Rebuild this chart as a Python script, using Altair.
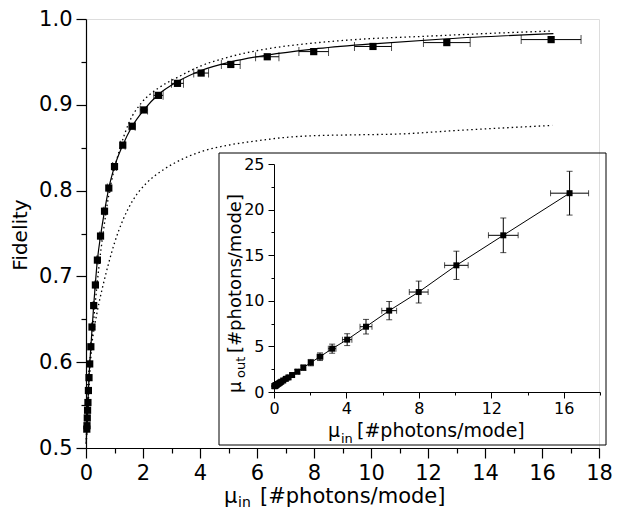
import altair as alt
import pandas as pd

# ---- data ----
mu_in = [0.028, 0.035, 0.045, 0.055, 0.068, 0.085, 0.105, 0.13, 0.17, 0.21, 0.27, 0.33, 0.40, 0.51,
         0.65, 0.80, 1.00, 1.29, 1.62, 2.03, 2.54, 3.21, 4.04, 5.08, 6.36, 7.99, 10.07, 12.66, 16.32]
fidelity = [0.522, 0.526, 0.535, 0.544, 0.553, 0.567, 0.582, 0.598, 0.618, 0.641, 0.666, 0.690, 0.719, 0.747,
            0.776, 0.803, 0.828, 0.853, 0.875, 0.894, 0.911, 0.925, 0.937, 0.947, 0.956, 0.962, 0.968, 0.9725, 0.976]
mu_in_err = [0.002, 0.002, 0.003, 0.004, 0.004, 0.006, 0.007, 0.008, 0.011, 0.014, 0.018, 0.021, 0.026, 0.033,
             0.042, 0.052, 0.065, 0.084, 0.105, 0.13, 0.165, 0.21, 0.26, 0.33, 0.41, 0.52, 0.65, 0.82, 1.05]
mu_out = [0.64, 0.645, 0.66, 0.67, 0.69, 0.71, 0.74, 0.77, 0.82, 0.88, 0.95, 1.03, 1.12, 1.26,
          1.44, 1.60, 1.86, 2.23, 2.67, 3.22, 3.87, 4.75, 5.74, 7.16, 8.92, 10.96, 13.89, 17.18, 21.8]
mu_out_err = [0.05, 0.05, 0.05, 0.06, 0.06, 0.07, 0.08, 0.09, 0.09, 0.10, 0.11, 0.12, 0.13, 0.14,
              0.16, 0.18, 0.20, 0.24, 0.29, 0.35, 0.42, 0.50, 0.65, 0.80, 1.00, 1.20, 1.55, 1.90, 2.40]

fit_mu = [0.005, 0.028, 0.045, 0.068, 0.105, 0.17, 0.27, 0.40, 0.51, 0.65, 0.80, 1.00, 1.29, 1.62,
          2.03, 2.54, 3.21, 4.04, 5.08, 6.36, 7.99, 10.07, 12.66, 16.4]
fit_F = [0.505, 0.522, 0.535, 0.553, 0.582, 0.618, 0.666, 0.719, 0.747, 0.776, 0.803, 0.828, 0.853, 0.875,
         0.894, 0.912, 0.927, 0.940, 0.950, 0.958, 0.965, 0.971, 0.977, 0.983]

upper_mu = [0.01, 0.05, 0.10, 0.20, 0.30, 0.45, 0.60, 0.80, 1.00, 1.20, 1.52, 1.94, 2.52, 3.21, 4.01,
            5.05, 6.32, 7.99, 9.44, 12.0, 14.0, 16.36]
upper_F = [0.505, 0.530, 0.565, 0.620, 0.660, 0.710, 0.750, 0.795, 0.826, 0.850, 0.880, 0.902, 0.919, 0.932,
           0.945, 0.956, 0.965, 0.972, 0.976, 0.980, 0.983, 0.986]

lower_mu = [0.01, 0.05, 0.10, 0.20, 0.30, 0.45, 0.60, 0.80, 1.00, 1.30, 1.65, 2.10, 2.70, 3.40, 4.10,
            5.00, 6.00, 7.00, 8.00, 9.50, 11.0, 13.0, 16.36]
lower_F = [0.510, 0.565, 0.590, 0.620, 0.642, 0.668, 0.690, 0.716, 0.739, 0.766, 0.789, 0.808, 0.824, 0.837,
           0.846, 0.853, 0.858, 0.862, 0.864, 0.865, 0.866, 0.870, 0.876]

main_x_ticks = list(range(0, 19))
main_y_ticks = [0.5, 0.55, 0.6, 0.65, 0.7, 0.75, 0.8, 0.85, 0.9, 0.95, 1.0]
inset_x_ticks = [0, 2, 4, 6, 8, 10, 12, 14, 16, 18]
inset_y_ticks = [0, 2.5, 5, 7.5, 10, 12.5, 15, 17.5, 20, 22.5, 25]

FONT = "DejaVu Sans"
W, H = 513, 429

pts = pd.DataFrame({
    "mu": mu_in, "F": fidelity,
    "lo": [m - e for m, e in zip(mu_in, mu_in_err)],
    "hi": [m + e for m, e in zip(mu_in, mu_in_err)],
    "out": mu_out,
    "olo": [m - e for m, e in zip(mu_out, mu_out_err)],
    "ohi": [m + e for m, e in zip(mu_out, mu_out_err)],
})
fit_df = pd.DataFrame({"mu": fit_mu, "F": fit_F})
up_df = pd.DataFrame({"mu": upper_mu, "F": upper_F})
low_df = pd.DataFrame({"mu": lower_mu, "F": lower_F})
one = pd.DataFrame({"k": [0]})

# ---- scales & axes ----
main_xs = alt.Scale(domain=[0, 18], nice=False, zero=False)
main_ys = alt.Scale(domain=[0.5, 1.0], nice=False, zero=False)
main_xa = alt.Axis(values=main_x_ticks, title="", orient="bottom",
                   labelExpr="datum.value % 2 === 0 ? datum.label : ''",
                   tickSize={"condition": {"test": "datum.value % 2 === 0", "value": 10}, "value": 5},
                   labelFont=FONT, labelFontSize=21, labelColor="black", labelPadding=4,
                   domainColor="black", tickColor="black", domainWidth=1.2, tickWidth=1.2,
                   grid=False, labelFlush=False, labelOverlap=False)
main_ya = alt.Axis(values=main_y_ticks, title="", orient="left", format=".1f",
                   labelExpr="round(datum.value*100) % 10 === 0 ? datum.label : ''",
                   tickSize={"condition": {"test": "round(datum.value*100) % 10 === 0", "value": 10}, "value": 5},
                   labelFont=FONT, labelFontSize=21, labelColor="black", labelPadding=4,
                   domainColor="black", tickColor="black", domainWidth=1.2, tickWidth=1.2,
                   grid=False, labelFlush=False, labelOverlap=False)

ins_xs = alt.Scale(domain=[0, 18], range=[188, 514], nice=False, zero=False)
ins_ys = alt.Scale(domain=[0, 25], range=[373, 145], nice=False, zero=False)
ins_xa = alt.Axis(values=inset_x_ticks, title="", orient="bottom", offset=373 - H,
                  labelExpr="datum.value % 4 === 0 && datum.value < 18 ? datum.label : ''",
                  tickSize={"condition": {"test": "datum.value % 4 === 0", "value": 6}, "value": 3},
                  labelFont=FONT, labelFontSize=16, labelColor="black", labelPadding=2,
                  domainColor="black", tickColor="black", domainWidth=1, tickWidth=1,
                  grid=False, labelFlush=False, labelOverlap=False)
ins_ya = alt.Axis(values=inset_y_ticks, title="", orient="left", offset=-188,
                  labelExpr="datum.value % 5 === 0 ? datum.label : ''",
                  tickSize={"condition": {"test": "datum.value % 5 === 0", "value": 6}, "value": 3},
                  labelFont=FONT, labelFontSize=16, labelColor="black", labelPadding=4,
                  domainColor="black", tickColor="black", domainWidth=1, tickWidth=1,
                  grid=False, labelFlush=False, labelOverlap=False)


def mx(f):
    return alt.X(f"{f}:Q", scale=main_xs, axis=main_xa)


def my(f):
    return alt.Y(f"{f}:Q", scale=main_ys, axis=main_ya)


def ix(f):
    return alt.X(f"{f}:Q", scale=ins_xs, axis=ins_xa)


def iy(f):
    return alt.Y(f"{f}:Q", scale=ins_ys, axis=ins_ya)


def label(txt, x, y, size, angle=0, align="left"):
    return alt.Chart(one).mark_text(text=txt, font=FONT, fontSize=size, color="black",
                                    align=align, baseline="alphabetic", angle=angle).encode(
        x=alt.value(x), y=alt.value(y))


# ---- main plot ----
lower = alt.Chart(low_df).mark_line(color="black", strokeWidth=1.3, strokeDash=[1.5, 3],
                                    interpolate="monotone").encode(x=mx("mu"), y=my("F"))
upper = alt.Chart(up_df).mark_line(color="black", strokeWidth=1.3, strokeDash=[1.5, 3],
                                   interpolate="monotone").encode(x=mx("mu"), y=my("F"))
solid = alt.Chart(fit_df).mark_line(color="black", strokeWidth=1.2,
                                    interpolate="monotone").encode(x=mx("mu"), y=my("F"))
err_main = alt.Chart(pts).mark_errorbar(ticks={"size": 9}, color="black", thickness=1).encode(
    x=mx("lo"), x2="hi", y=my("F"))
sq_main = alt.Chart(pts).mark_point(shape="square", filled=True, size=52, color="black", opacity=1).encode(
    x=mx("mu"), y=my("F"))

main = alt.layer(
    lower, upper, solid, err_main, sq_main,
    label("Fidelity", -59, 216, 20, angle=270, align="center"),
    label("μ", 138, 484, 21),
    label("in", 152, 488, 14),
    label("[#photons/mode]", 174, 484, 21),
)

# ---- inset ----
frame = alt.Chart(one).mark_rect(fillOpacity=0, stroke="black", strokeWidth=1).encode(
    x=alt.value(133), x2=alt.value(520), y=alt.value(134), y2=alt.value(426))
ins_line = alt.Chart(pts).mark_line(color="black", strokeWidth=1).encode(x=ix("mu"), y=iy("out"))
ins_errx = alt.Chart(pts).mark_errorbar(ticks={"size": 6}, color="black", thickness=1).encode(
    x=ix("lo"), x2="hi", y=iy("out"))
ins_erry = alt.Chart(pts).mark_errorbar(ticks={"size": 6}, color="black", thickness=1).encode(
    y=iy("olo"), y2="ohi", x=ix("mu"))
ins_sq = alt.Chart(pts).mark_point(shape="square", filled=True, size=36, color="black", opacity=1).encode(
    x=ix("mu"), y=iy("out"))

inset = alt.layer(
    frame, ins_line, ins_errx, ins_erry, ins_sq,
    label("μ", 242, 418, 19),
    label("in", 255, 424, 13),
    label("[#photons/mode]", 271, 418, 19),
    label("μ", 154.5, 374, 18, angle=270),
    label("out", 159, 359, 13, angle=270),
    label("[#photons/mode]", 154.5, 334, 18, angle=270),
)

chart = alt.layer(main, inset).resolve_scale(x="independent", y="independent").properties(
    width=W, height=H,
    autosize=alt.AutoSizeParams(type="none"),
    padding={"left": 78, "top": 11, "right": 14, "bottom": 61},
).configure_view(strokeWidth=0).configure(background="white")

chart.save("out.html", embed_options={"renderer": "svg", "actions": False})
